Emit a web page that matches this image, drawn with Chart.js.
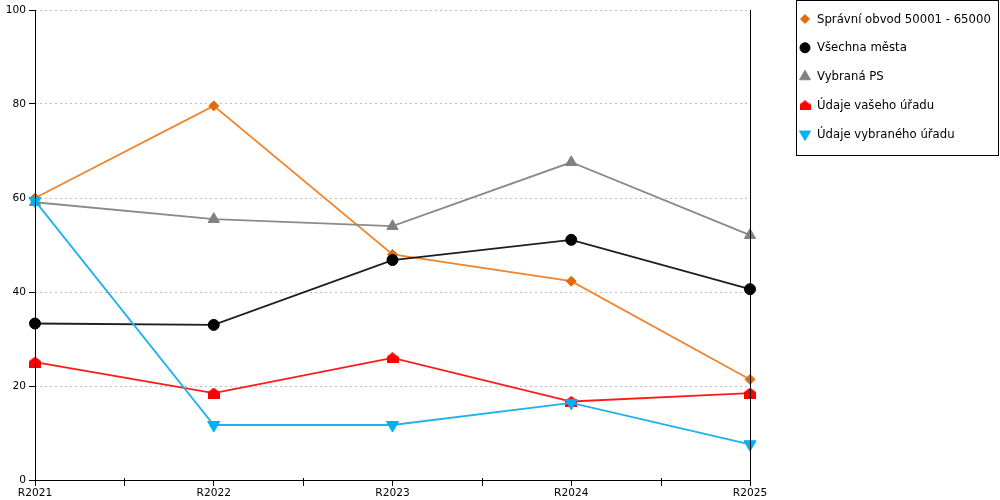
<!DOCTYPE html>
<html>
<head>
<meta charset="utf-8">
<script src="https://cdn.jsdelivr.net/npm/chart.js@4"></script>
<style>
html,body{margin:0;padding:0;background:#fff;}
#wrap{width:1000px;height:500px;}
</style>
</head>
<body>
<div id="wrap"><canvas id="c" width="1000" height="500"></canvas></div>
<script>
const categories = ['R2021', 'R2022', 'R2023', 'R2024', 'R2025'];
const seriesNames = ['Správní obvod 50001 - 65000', 'Všechna města', 'Vybraná PS', 'Údaje vašeho úřadu', 'Údaje vybraného úřadu'];
const spravniObvod = [60.0, 79.6, 48.0, 42.3, 21.4];
const vsechnaMesta = [33.3, 33.0, 46.8, 51.1, 40.6];
const vybranaPS = [59.1, 55.5, 54.0, 67.6, 52.1];
const udajeVasehoUradu = [25.1, 18.5, 26.0, 16.7, 18.5];
const udajeVybranehoUradu = [59.4, 11.7, 11.7, 16.4, 7.6];
const yTicks = [0, 20, 40, 60, 80, 100];

// house-shaped marker
function houseMarker(w, h, color) {
  const cv = document.createElement('canvas');
  cv.width = w; cv.height = h;
  const g = cv.getContext('2d');
  g.fillStyle = color;
  g.beginPath();
  g.moveTo(w / 2, 0);
  g.lineTo(w, h * 0.4);
  g.lineTo(w, h);
  g.lineTo(0, h);
  g.lineTo(0, h * 0.4);
  g.closePath();
  g.fill();
  return cv;
}
const houseRed = houseMarker(12, 11, '#FF0000');
const houseRedLegend = houseMarker(11, 10, '#FF0000');

const styles = [
  {line: '#F0852E', point: '#E36C0A', ps: 'rectRot', r: 5, rot: 0, legR: 4.5, legPs: 'rectRot'},
  {line: '#1E1E1E', point: '#000000', ps: 'circle', r: 5.5, rot: 0, legR: 5, legPs: 'circle'},
  {line: '#8A8A8A', point: '#808080', ps: 'triangle', r: 6.5, rot: 0, legR: 6.3, legPs: 'triangle'},
  {line: '#FF1A1A', point: '#FF0000', ps: houseRed, r: 6, rot: 0, legR: 6, legPs: houseRedLegend},
  {line: '#1DB2EE', point: '#00B0F0', ps: 'triangle', r: 7, rot: 180, legR: 6.3, legPs: 'triangle'}
];
const seriesData = [spravniObvod, vsechnaMesta, vybranaPS, udajeVasehoUradu, udajeVybranehoUradu];

const datasets = seriesData.map((d, i) => ({
  label: seriesNames[i],
  data: d,
  borderColor: styles[i].line,
  backgroundColor: styles[i].point,
  borderWidth: 1.8,
  tension: 0,
  pointStyle: styles[i].ps,
  pointRadius: styles[i].r,
  pointRotation: styles[i].rot,
  pointBackgroundColor: styles[i].point,
  pointBorderColor: styles[i].point,
  pointBorderWidth: 1,
  order: 5 - i
}));

const axesPlugin = {
  id: 'axesPlugin',
  afterDatasetsDraw(chart) {
    const {ctx, chartArea: a, scales} = chart;
    const x = scales.x;
    ctx.save();
    ctx.strokeStyle = '#000';
    ctx.lineWidth = 1;
    ctx.beginPath();
    // left axis
    ctx.moveTo(Math.round(a.left) + 0.5, a.top);
    ctx.lineTo(Math.round(a.left) + 0.5, a.bottom);
    // right line
    ctx.moveTo(Math.round(a.right) + 0.5, a.top);
    ctx.lineTo(Math.round(a.right) + 0.5, a.bottom);
    // bottom axis
    ctx.moveTo(a.left, Math.round(a.bottom) + 0.5);
    ctx.lineTo(a.right + 1, Math.round(a.bottom) + 0.5);
    // minor ticks between categories
    for (let i = 0; i < categories.length - 1; i++) {
      const px = Math.round((x.getPixelForValue(i) + x.getPixelForValue(i + 1)) / 2) + 0.5;
      ctx.moveTo(px, a.bottom - 2);
      ctx.lineTo(px, a.bottom + 6);
    }
    ctx.stroke();
    ctx.restore();
  },
  afterDraw(chart) {
    const ctx = chart.ctx;
    ctx.save();
    ctx.strokeStyle = '#000';
    ctx.lineWidth = 1;
    ctx.strokeRect(796.5, 0.5, 202, 155);
    chart.data.datasets.forEach((ds, i) => {
      const y = 19 + i * 28.8;
      const st = styles[i];
      ctx.fillStyle = st.point;
      ctx.strokeStyle = st.point;
      ctx.lineWidth = 1;
      Chart.helpers.drawPoint(ctx, {pointStyle: st.legPs, radius: st.legR, rotation: st.rot, borderWidth: 1}, 805, y);
      ctx.fillStyle = '#000';
      ctx.font = '11.7px "DejaVu Sans"';
      ctx.textBaseline = 'middle';
      ctx.textAlign = 'left';
      ctx.fillText(ds.label, 817, y + 0.5);
    });
    ctx.restore();
  }
};

Chart.defaults.font.family = '"DejaVu Sans", sans-serif';
Chart.defaults.color = '#000';

new Chart(document.getElementById('c'), {
  type: 'line',
  data: {labels: categories, datasets: datasets},
  options: {
    responsive: false,
    animation: false,
    events: [],
    devicePixelRatio: 1,
    layout: {padding: {top: 10, right: 250, left: 0, bottom: 0}},
    plugins: {legend: {display: false}, tooltip: {enabled: false}},
    scales: {
      x: {
        type: 'category',
        offset: false,
        border: {display: false},
        grid: {display: true, drawOnChartArea: false, drawTicks: true, tickLength: 6, tickColor: '#000', tickWidth: 1},
        ticks: {font: {size: 10.6}, color: '#000', padding: 1, maxRotation: 0, autoSkip: false},
        afterFit(s) { s.height = 20; }
      },
      y: {
        min: 0, max: 100,
        afterBuildTicks(s) { s.ticks = yTicks.map(v => ({value: v})); },
        border: {display: false, dash: [2, 3]},
        grid: {color: '#BDBDBD', lineWidth: 1, drawTicks: true, tickLength: 6, tickColor: '#000', tickBorderDash: [], tickWidth: 1},
        ticks: {font: {size: 10.6}, color: '#000', padding: 3},
        afterFit(s) { s.width = 35; }
      }
    }
  },
  plugins: [axesPlugin]
});
</script>
</body>
</html>
